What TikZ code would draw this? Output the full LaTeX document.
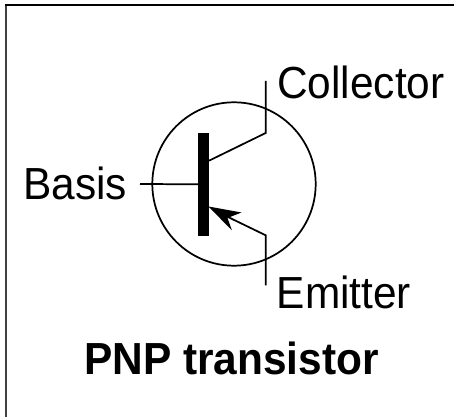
\documentclass[tikz,border=0pt]{standalone}
\usepackage{fontspec}
\usepackage{graphicx}
\setmainfont{Liberation Sans}
\newcommand{\tallText}[1]{\scalebox{1}[1.06]{#1}}
\tikzset{px/.style={x=0.75pt,y=-0.75pt},
  wire/.style={line width=1.3pt,line join=miter},
  lab/.style={inner sep=0pt,font=\fontsize{31.8}{36}\selectfont}}
\begin{document}
\begin{tikzpicture}[px]
\useasboundingbox (0,0) rectangle (454,417);
\fill[white] (0,0) rectangle (454,417);
\draw[line width=1.4pt,black!75] (6,417) -- (6,5);
\draw[line width=1.4pt] (5,5) -- (454,5);
\coordinate (cc) at (234,184);
\draw[wire] (cc) circle [radius=81.7];
\node[fill=black,minimum width=8pt,minimum height=77.5pt,inner sep=0pt,outer sep=0pt] (bar) at (203.7,184.3) {};
\coordinate (bfree) at (140,184);
\coordinate (c1) at (265.7,81);
\coordinate (c2) at (265.7,133);
\coordinate (c3) at (209,160.7);
\coordinate (e1) at (265.7,285.3);
\coordinate (e2) at (265.7,235.3);
\coordinate (e3) at (228,217);
\draw[wire] (bfree) -- (bar.west);
\draw[wire] (c1) -- (c2) -- (c3);
\draw[wire] (e1) -- (e2) -- (e3);
\fill (208.5,206.5) -- (241.5,212.5) -- (227.5,218) -- (232,230.5) -- cycle;
\node[lab,anchor=west] (col) at (277,82) {\tallText{Collector}};
\node[lab,anchor=west] (em) at (276.5,292.5) {\tallText{Emitter}};
\node[lab,anchor=west] (bas) at (23,183.5) {\tallText{Basis}};
\node[inner sep=0pt,font=\fontsize{31.8}{36}\selectfont\bfseries] (title) at (231.5,358.5) {\tallText{PNP transistor}};
\end{tikzpicture}
\end{document}
